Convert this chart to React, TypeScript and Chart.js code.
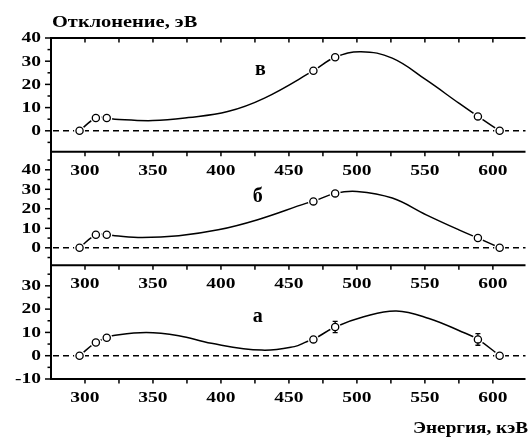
import React, { useEffect, useRef } from 'react';
import { Chart, registerables } from 'chart.js';

Chart.register(...registerables);

// ---- data ----
const energies = [296, 308, 316, 468, 484, 589, 605];
const devV = [0, 5.5, 5.5, 25.9, 31.7, 6.2, 0];
const devB = [0, 6.7, 6.7, 23.8, 27.9, 5.0, 0];
const devA = [0, 5.7, 7.7, 7.0, 12.3, 7.0, 0];
const errA = [0, 0, 0, 0, 2.4, 2.5, 0];

const curveVx = [296, 308, 316, 322, 350, 376, 405, 432, 468, 484, 503, 526, 551, 575, 589, 605];
const curveVy = [0, 5.5, 5.5, 5.0, 4.4, 5.7, 8.3, 14.1, 25.9, 31.7, 34.1, 31.3, 21.9, 11.9, 6.2, 0];
const curveBx = [296, 308, 316, 322, 342, 369, 398, 427, 463, 468, 484, 500, 526, 551, 575, 589, 605];
const curveBy = [0, 6.7, 6.7, 6.2, 5.3, 6.2, 9.2, 14.4, 22.9, 23.8, 27.9, 28.9, 25.5, 16.9, 9.2, 5.0, 0];
const curveAx = [296, 308, 316, 320, 345, 369, 393, 430, 454, 463, 468, 484, 505, 529, 553, 577, 589, 605];
const curveAy = [0, 5.7, 7.7, 8.6, 10.0, 8.6, 5.3, 2.4, 3.9, 6.0, 7.0, 12.3, 16.7, 19.2, 16.0, 10.3, 7.0, 0];

const xTickLabels = [300, 350, 400, 450, 500, 550, 600];
const xTickMarks = [300, 325, 350, 375, 400, 425, 450, 475, 500, 525, 550, 575, 600];

const yTopLabels = [40, 30, 20, 10, 0];
const yTopMinor = [35, 25, 15, 5, -5];
const yMidLabels = [40, 30, 20, 10, 0];
const yMidMinor = [45, 35, 25, 15, 5, -5];
const yBotLabels = [30, 20, 10, 0, -10];
const yBotMinor = [35, 25, 15, 5, -5];

const panelLetters = ['в', 'б', 'а'];
const letterPos = [
  [429, 24],
  [427, 23.6],
  [427, 14.6],
];

const yTitle = 'Отклонение, эВ';
const xTitle = 'Энергия, кэВ';

const SERIF = '"Liberation Serif", "Times New Roman", serif';

function pts(xs: number[], ys: number[]) {
  return xs.map((x, i) => ({ x, y: ys[i] }));
}

function stretchText(
  ctx: CanvasRenderingContext2D,
  text: string,
  x: number,
  y: number,
  align: 'left' | 'center' | 'right',
  sx: number,
  font: string,
  baseline: CanvasTextBaseline = 'middle'
) {
  ctx.save();
  ctx.font = font;
  ctx.textAlign = 'left';
  ctx.textBaseline = baseline;
  ctx.fillStyle = '#000';
  const w = ctx.measureText(text).width * sx;
  const x0 = align === 'center' ? x - w / 2 : align === 'right' ? x - w : x;
  ctx.translate(x0, y);
  ctx.scale(sx, 1);
  ctx.fillText(text, 0, 0);
  ctx.restore();
}

const framePlugin = {
  id: 'framePlugin',
  beforeDatasetsDraw(chart: any) {
    const ctx: CanvasRenderingContext2D = chart.ctx;
    const area = chart.chartArea;
    const xs = chart.scales.x;
    const panels = [
      { s: chart.scales.yTop, labels: yTopLabels, minor: yTopMinor },
      { s: chart.scales.yMid, labels: yMidLabels, minor: yMidMinor },
      { s: chart.scales.yBot, labels: yBotLabels, minor: yBotMinor },
    ];
    ctx.save();
    // zero dashed lines
    ctx.strokeStyle = '#000';
    ctx.lineWidth = 1.5;
    ctx.setLineDash([6, 4]);
    for (const p of panels) {
      const y = p.s.getPixelForValue(0);
      ctx.beginPath();
      ctx.moveTo(area.left + 2, y);
      ctx.lineTo(area.right, y);
      ctx.stroke();
    }
    ctx.setLineDash([]);

    // horizontal frame lines
    ctx.lineWidth = 2;
    const hLines = [panels[0].s.top, panels[0].s.bottom, panels[1].s.bottom, panels[2].s.bottom];
    for (const y of hLines) {
      ctx.beginPath();
      ctx.moveTo(area.left - 1, y);
      ctx.lineTo(area.right, y);
      ctx.stroke();
    }
    // left axis
    ctx.beginPath();
    ctx.moveTo(area.left, area.top - 1);
    ctx.lineTo(area.left, area.bottom + 1);
    ctx.stroke();

    // x tick marks (downwards on every horizontal line)
    ctx.lineWidth = 1.5;
    for (const y of hLines) {
      for (const v of xTickMarks) {
        const x = xs.getPixelForValue(v);
        ctx.beginPath();
        ctx.moveTo(x, y);
        ctx.lineTo(x, y + 4.5);
        ctx.stroke();
      }
    }
    // y tick marks
    for (const p of panels) {
      for (const v of p.labels) {
        const y = p.s.getPixelForValue(v);
        ctx.beginPath();
        ctx.moveTo(area.left, y);
        ctx.lineTo(area.left - 6, y);
        ctx.stroke();
      }
      for (const v of p.minor) {
        const y = p.s.getPixelForValue(v);
        ctx.beginPath();
        ctx.moveTo(area.left, y);
        ctx.lineTo(area.left - 3.5, y);
        ctx.stroke();
      }
    }
    ctx.restore();

    // tick labels
    const tickFont = `bold 15px ${SERIF}`;
    for (const y of hLines.slice(1)) {
      for (const v of xTickLabels) {
        stretchText(ctx, String(v), xs.getPixelForValue(v), y + 19, 'center', 1.3, tickFont);
      }
    }
    for (const p of panels) {
      for (const v of p.labels) {
        stretchText(ctx, String(v), area.left - 10, p.s.getPixelForValue(v) + 0.5, 'right', 1.3, tickFont);
      }
    }
    // panel letters
    panels.forEach((p, i) => {
      stretchText(
        ctx,
        panelLetters[i],
        xs.getPixelForValue(letterPos[i][0]),
        p.s.getPixelForValue(letterPos[i][1]),
        'center',
        1.0,
        `bold 20px ${SERIF}`,
        'alphabetic'
      );
    });
    // titles
    stretchText(ctx, yTitle, 52, 27, 'left', 1.2, `bold 17px ${SERIF}`, 'alphabetic');
    stretchText(ctx, xTitle, 528, 433, 'right', 1.2, `bold 16px ${SERIF}`, 'alphabetic');
  },
  afterDatasetDraw(chart: any, args: any) {
    const ds = chart.data.datasets[args.index];
    if (!ds || !ds.errorBars) return;
    const ctx: CanvasRenderingContext2D = chart.ctx;
    const xs = chart.scales.x;
    const ys = chart.scales[ds.yAxisID];
    ctx.save();
    ctx.strokeStyle = '#000';
    ctx.lineWidth = 1.3;
    ds.data.forEach((d: any, i: number) => {
      const e = ds.errorBars[i];
      if (!e) return;
      const x = xs.getPixelForValue(d.x);
      const y1 = ys.getPixelForValue(d.y - e);
      const y2 = ys.getPixelForValue(d.y + e);
      ctx.beginPath();
      ctx.moveTo(x, y1);
      ctx.lineTo(x, y2);
      ctx.moveTo(x - 2.5, y1);
      ctx.lineTo(x + 2.5, y1);
      ctx.moveTo(x - 2.5, y2);
      ctx.lineTo(x + 2.5, y2);
      ctx.stroke();
    });
    ctx.restore();
  },
};

function curveDs(data: any[], yAxisID: string) {
  return {
    data,
    yAxisID,
    xAxisID: 'x',
    order: 2,
    borderColor: '#000',
    borderWidth: 1.5,
    pointRadius: 0,
    fill: false,
    tension: 0.4,
  };
}
function haloDs(data: any[], yAxisID: string, errorBars?: number[]) {
  return {
    data,
    yAxisID,
    xAxisID: 'x',
    order: 1,
    showLine: false,
    pointRadius: 5.5,
    pointBorderWidth: 0,
    pointBackgroundColor: '#fff',
    pointBorderColor: '#fff',
    errorBars,
  };
}
function markerDs(data: any[], yAxisID: string) {
  return {
    data,
    yAxisID,
    xAxisID: 'x',
    order: 0,
    showLine: false,
    pointRadius: 3.6,
    pointBorderWidth: 1.3,
    pointBackgroundColor: '#fff',
    pointBorderColor: '#000',
  };
}

export default function App() {
  const ref = useRef<HTMLCanvasElement>(null);
  useEffect(() => {
    if (!ref.current) return;
    const pV = pts(energies, devV);
    const pB = pts(energies, devB);
    const pA = pts(energies, devA);
    const chart = new Chart(ref.current, {
      type: 'line',
      data: {
        datasets: [
          curveDs(pts(curveVx, curveVy), 'yTop'),
          curveDs(pts(curveBx, curveBy), 'yMid'),
          curveDs(pts(curveAx, curveAy), 'yBot'),
          haloDs(pV, 'yTop'),
          haloDs(pB, 'yMid'),
          haloDs(pA, 'yBot', errA),
          markerDs(pV, 'yTop'),
          markerDs(pB, 'yMid'),
          markerDs(pA, 'yBot'),
        ] as any,
      },
      options: {
        responsive: false,
        animation: false,
        events: [],
        layout: { padding: { left: 51, top: 38, right: 0, bottom: 60 } },
        plugins: { legend: { display: false }, tooltip: { enabled: false } },
        scales: {
          x: { type: 'linear', min: 275, max: 624, display: false },
          yBot: { type: 'linear', position: 'left', display: false, min: -10, max: 38.8, stack: 'p', stackWeight: 1, weight: 1 },
          yMid: { type: 'linear', position: 'left', display: false, min: -9, max: 49.3, stack: 'p', stackWeight: 1, weight: 2 },
          yTop: { type: 'linear', position: 'left', display: false, min: -9, max: 40, stack: 'p', stackWeight: 1, weight: 3 },
        } as any,
      },
      plugins: [framePlugin],
    });
    return () => chart.destroy();
  }, []);
  return (
    <div style={{ position: 'absolute', left: 0, top: 0, width: 531, height: 439, background: '#fff' }}>
      <canvas ref={ref} width={531} height={439} style={{ display: 'block' }} />
    </div>
  );
}
